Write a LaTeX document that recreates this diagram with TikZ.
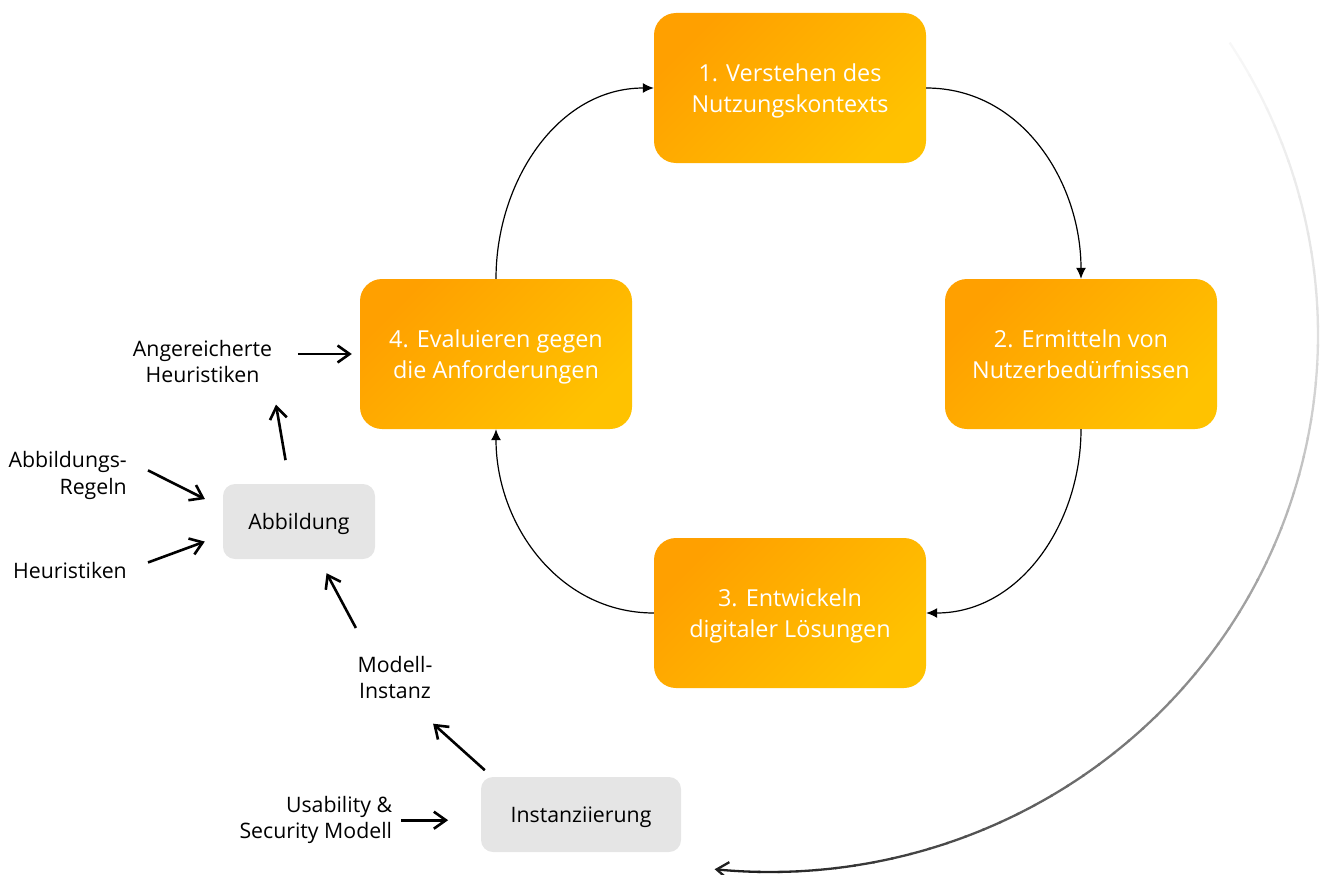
\documentclass[tikz,border=0pt]{standalone}
\usepackage{fontspec}
\setmainfont{Open Sans}
\usepackage{xcolor}
\usetikzlibrary{arrows.meta, calc, positioning}

\definecolor{phasedark}{RGB}{255,160,0}
\definecolor{phaselight}{RGB}{255,194,0}
\definecolor{procgray}{RGB}{229,229,229}

\tikzset{
    phase/.style={rounded corners=22pt, minimum width=272pt, minimum height=150pt,
        top color=phasedark, bottom color=phaselight, shading angle=45,
        text=white, align=center, text depth=0pt, font=\fontsize{23.4}{30.7}\selectfont},
    proc/.style={rounded corners=12pt, fill=procgray, minimum height=75pt,
        text depth=0pt, font=\fontsize{21.3}{26.5}\selectfont},
    lbl/.style={inner sep=0pt, font=\fontsize{21.3}{26.5}\selectfont},
    cyc/.style={line width=1.2pt, -{Latex[length=11pt, width=10pt]}},
    flow/.style={line width=2.6pt, -{Straight Barb[length=12pt, width=17pt]}}
}

\begin{document}
\begin{tikzpicture}[x=1pt, y=1pt]
    \useasboundingbox (0,0) rectangle (1320,-875);

    % Phasen
    \node[phase] (1) at (790, -88) {1. Verstehen des\\Nutzungskontexts};
    \node[phase] (2) at (1081, -354) {2. Ermitteln von\\Nutzerbedürfnissen};
    \node[phase] (3) at (790, -613) {3. Entwickeln\\digitaler Lösungen};
    \node[phase] (4) at (496, -354) {4. Evaluieren gegen\\die Anforderungen};

    \draw
    (4.north) edge[cyc, out=90, in=180] (1.west)
    (1.east) edge[cyc, out=0, in=90] (2.north)
    (2.south) edge[cyc, out=-90, in=0] (3.east)
    (3.west) edge[cyc, out=180, in=-90] (4.south);

    % Abbildung / Instanziierung
    \node[proc, minimum width=152pt] (abb) at (299, -521.5) {Abbildung};
    \node[proc, minimum width=200pt] (inst) at (581, -814.5) {Instanziierung};

    \node[lbl, align=center] (angh) at (202.5, -361.3) {Angereicherte\\Heuristiken};
    \node[lbl, align=right, anchor=east] (regeln) at (127, -475.7) {Abbildungs-\\Regeln};
    \node[lbl, anchor=east] (heur) at (127, -570.2) {Heuristiken};
    \node[lbl, align=center] (modell) at (395, -677.7) {Modell-\\Instanz};
    \node[lbl, align=right, anchor=east] (usab) at (392.3, -820.2) {Usability \&\\Security Modell};

    \draw[flow, shorten <=25.5pt, shorten >=8pt] (4.west -| angh.east) -- (4.west);
    \draw[flow, shorten <=24pt, shorten >=22pt] (abb.104) -- (angh.south east);
    \draw[flow, shorten <=23.5pt, shorten >=20pt] (regeln.15) -- (abb.170);
    \draw[flow, shorten <=22.4pt, shorten >=19.2pt] (heur.east) -- (abb.190);
    \draw[flow, shorten <=31.9pt, shorten >=15.9pt] (modell.138) -- (abb.-62);
    \draw[flow, shorten <=9.9pt, shorten >=36.4pt] (inst.157) -- (modell.-63);
    \draw[flow, shorten <=9pt, shorten >=32.7pt] (usab.east) -- (usab.east -| inst.west);

    % Rueckkopplung
    \coordinate (fb) at (770, -335);
    \foreach \a in {33,31,...,-89}{
        \pgfmathsetmacro\shadeval{\a>0 ? 13-0.3*(\a) : 13-0.82*(\a)}
        \pgfmathsetmacro\b{\a-2.2}
        \draw[line width=2.3pt, black!\shadeval]
            ([shift={(\a:548 and 537)}]fb) arc[start angle=\a, end angle=\b, x radius=548, y radius=537];
    }
    \draw[line width=2.3pt, black!88, -{Straight Barb[length=12pt, width=17pt]}]
        ([shift={(-91:548 and 537)}]fb) arc[start angle=-91, end angle=-95.8, x radius=548, y radius=537];
\end{tikzpicture}
\end{document}
